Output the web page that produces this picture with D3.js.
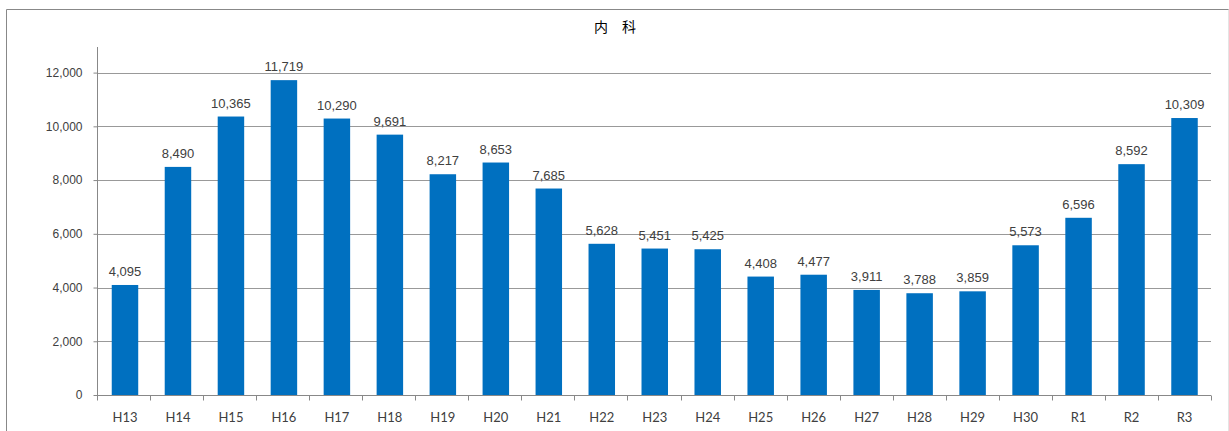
<!DOCTYPE html>
<html>
<head>
<meta charset="utf-8">
<script src="https://cdn.jsdelivr.net/npm/d3@7"></script>
<style>
body { margin: 0; background: #fff; }
svg { display: block; }
.tick text { fill: #404040; }
</style>
</head>
<body>
<svg width="1229" height="431"></svg>
<script>
var years = ["H13","H14","H15","H16","H17","H18","H19","H20","H21","H22","H23","H24","H25","H26","H27","H28","H29","H30","R1","R2","R3"];
var values = [4095,8490,10365,11719,10290,9691,8217,8653,7685,5628,5451,5425,4408,4477,3911,3788,3859,5573,6596,8592,10309];
var yTicks = [0,2000,4000,6000,8000,10000,12000];
var title = "内　科";

var svg = d3.select("svg");

// chart frame
svg.append("line").attr("x1", 6.5).attr("y1", 9.5).attr("x2", 1229).attr("y2", 9.5)
    .attr("stroke", "#888").attr("stroke-width", 1);
svg.append("line").attr("x1", 6.5).attr("y1", 9.5).attr("x2", 6.5).attr("y2", 431)
    .attr("stroke", "#888").attr("stroke-width", 1);
svg.append("line").attr("x1", 1228.5).attr("y1", 9.5).attr("x2", 1228.5).attr("y2", 431)
    .attr("stroke", "#e4e4e4").attr("stroke-width", 1);

svg.append("text")
    .attr("x", 615)
    .attr("y", 32)
    .attr("text-anchor", "middle")
    .style("font-family", "'Noto Sans CJK JP', sans-serif")
    .style("font-size", "14px")
    .style("fill", "#000")
    .text(title);

var x = d3.scaleBand().domain(years).range([98.5, 1211]).paddingInner(0.5).paddingOuter(0.25);
var y = d3.scaleLinear().domain([0, 12000]).range([395, 72.6]);

// gridlines
svg.append("g").selectAll("line").data(yTicks.slice(1)).enter().append("line")
    .attr("x1", 97).attr("x2", 1211)
    .attr("y1", d => Math.round(y(d)) + 0.5).attr("y2", d => Math.round(y(d)) + 0.5)
    .attr("stroke", "#999").attr("stroke-width", 1);

// bars
svg.append("g").selectAll("rect").data(values).enter().append("rect")
    .attr("x", (d, i) => x(years[i]))
    .attr("y", d => y(d))
    .attr("width", x.bandwidth())
    .attr("height", d => y(0) - y(d))
    .attr("fill", "#0070C0");

// data labels
svg.append("g").selectAll("text").data(values).enter().append("text")
    .attr("x", (d, i) => x(years[i]) + x.bandwidth() / 2)
    .attr("y", d => y(d) - 9)
    .attr("text-anchor", "middle")
    .style("font-family", "'Liberation Sans Narrow', 'Liberation Sans', Arial, sans-serif")
    .style("font-size", "13px")
    .style("fill", "#404040")
    .text(d => d3.format(",")(d));

// y axis
var yAxis = svg.append("g")
    .attr("transform", "translate(97.5,0)")
    .call(d3.axisLeft(y).tickValues(yTicks).tickSize(4).tickPadding(11).tickFormat(d3.format(",")));
yAxis.select(".domain").remove();
yAxis.append("line").attr("x1", 0).attr("x2", 0).attr("y1", 47).attr("y2", 395).attr("stroke", "#888");
yAxis.selectAll(".tick line").attr("stroke", "#888");
yAxis.selectAll(".tick text")
    .style("font-family", "'Liberation Sans', Arial, sans-serif")
    .style("font-size", "12px");

// x axis
var xAxis = svg.append("g").attr("transform", "translate(0,395.5)");
xAxis.append("line").attr("x1", 97).attr("x2", 1211).attr("stroke", "#888");
xAxis.selectAll(".xt").data(d3.range(years.length + 1)).enter().append("line")
    .attr("class", "xt")
    .attr("x1", i => Math.round(97 + i * (1114 / years.length)) + 0.5)
    .attr("x2", i => Math.round(97 + i * (1114 / years.length)) + 0.5)
    .attr("y1", 0).attr("y2", 5)
    .attr("stroke", "#888");
xAxis.selectAll(".xl").data(years).enter().append("text")
    .attr("class", "xl")
    .attr("x", d => x(d) + x.bandwidth() / 2)
    .attr("y", 26)
    .attr("text-anchor", "middle")
    .style("font-family", "Lato, 'Open Sans', sans-serif")
    .style("font-size", "13px")
    .style("fill", "#404040")
    .text(d => d);
</script>
</body>
</html>
